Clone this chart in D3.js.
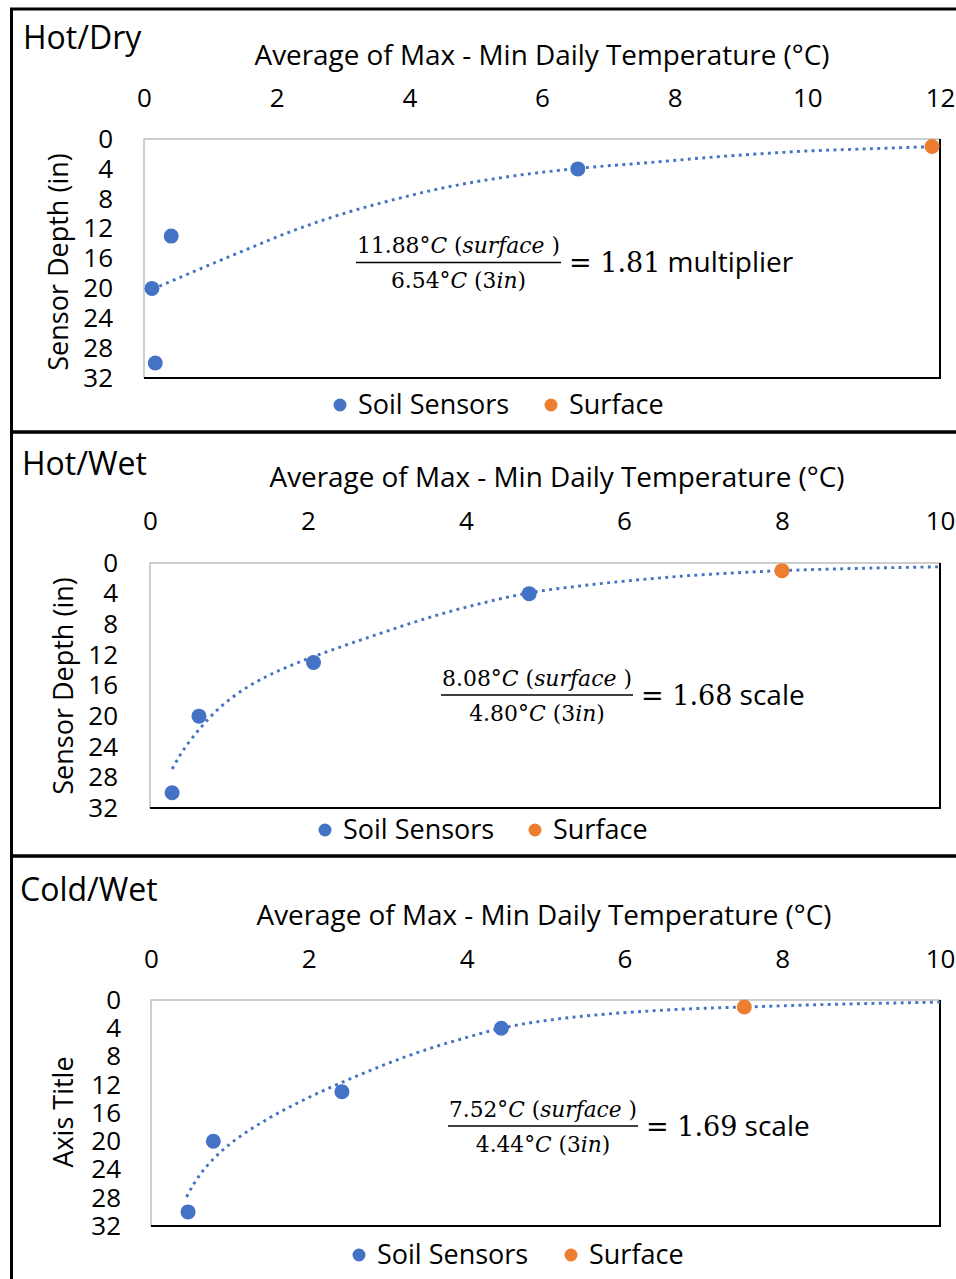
<!DOCTYPE html>
<html>
<head>
<meta charset="utf-8">
<script src="https://cdn.jsdelivr.net/npm/d3@7"></script>
<style>
  body { margin: 0; background: #fff; }
  svg text { font-family: "Open Sans", sans-serif; fill: #000; }
  .math { font-family: "DejaVu Serif", serif; }
</style>
</head>
<body>
<svg id="chart" width="956" height="1279"></svg>
<script>
// ---- data ----
const panelTitles = ['Hot/Dry', 'Hot/Wet', 'Cold/Wet'];
const yTitles = ['Sensor Depth (in)', 'Sensor Depth (in)', 'Axis Title'];
const xTitle = 'Average of Max - Min Daily Temperature (°C)';
const xMaxes = [12, 10, 10];
const xTicks = [[0, 2, 4, 6, 8, 10, 12], [0, 2, 4, 6, 8, 10], [0, 2, 4, 6, 8, 10]];
const depthTicks = [0, 4, 8, 12, 16, 20, 24, 28, 32];
const seriesNames = ['Soil Sensors', 'Surface'];

// [temperature range, depth]
const soilHotDry = [[6.54, 4], [0.41, 13], [0.12, 20], [0.17, 30]];
const surfaceHotDry = [[11.88, 1]];
const trendHotDry = [[0.13, 20.1], [1.49, 15.0], [2.27, 12.2], [3.04, 9.9], [3.82, 8.0], [4.59, 6.4],
  [5.37, 5.2], [6.53, 3.95], [7.69, 3.1], [8.47, 2.5], [9.25, 2.0], [10.02, 1.6], [10.8, 1.35],
  [11.88, 1.03], [12, 1.0]];

const soilHotWet = [[4.80, 4], [2.07, 13], [0.62, 20], [0.28, 30]];
const surfaceHotWet = [[8.0, 1]];
const trendHotWet = [[0.28, 26.9], [0.38, 25.1], [0.50, 23.3], [0.65, 21.4], [0.84, 19.3], [1.05, 17.5],
  [1.25, 16.1], [1.48, 14.8], [1.90, 12.9], [2.32, 11.3], [2.74, 9.8], [3.16, 8.35], [3.59, 6.95],
  [4.18, 5.3], [4.80, 3.9], [5.44, 3.0], [6.08, 2.3], [6.73, 1.72], [7.38, 1.3], [8.0, 1.0],
  [8.67, 0.78], [9.32, 0.62], [10, 0.5]];

const soilColdWet = [[4.44, 4], [2.42, 13], [0.79, 20], [0.47, 30]];
const surfaceColdWet = [[7.52, 1]];
const trendColdWet = [[0.45, 27.9], [0.55, 25.9], [0.65, 24.3], [0.80, 22.4], [1.00, 20.4], [1.25, 18.4],
  [1.50, 16.7], [1.89, 14.4], [2.31, 12.2], [2.73, 10.2], [3.16, 8.3], [3.58, 6.7], [4.0, 5.3],
  [4.46, 3.95], [5.11, 2.75], [5.76, 2.0], [6.40, 1.5], [7.05, 1.15], [7.51, 1.0], [8.35, 0.7],
  [9.0, 0.52], [10, 0.3]];

const surfaceTemps = ['11.88', '8.08', '7.52'];
const depth3Temps = ['6.54', '4.80', '4.44'];
const ratios = ['1.81', '1.68', '1.69'];
const ratioWords = ['multiplier', 'scale', 'scale'];

const soilSets = [soilHotDry, soilHotWet, soilColdWet];
const surfaceSets = [surfaceHotDry, surfaceHotWet, surfaceColdWet];
const trendSets = [trendHotDry, trendHotWet, trendColdWet];

// ---- layout ----
const blue = '#4472C4', orange = '#ED7D31';
const layout = [
  { frameY: 9, frameH: 423, plot: { l: 144, t: 139, r: 940, b: 378 }, titleX: 23, titleY: 49,
    axisTitleX: 542, axisTitleY: 65, tickY: 107, yLabelX: 113, yTitleX: 68, yTitleY: 262,
    legendY: 405, legendX: [340, 551], bar: { x0: 356, x1: 561, y: 262.5 } },
  { frameY: 432, frameH: 424, plot: { l: 150, t: 563, r: 940, b: 808 }, titleX: 22, titleY: 475,
    axisTitleX: 557, axisTitleY: 487, tickY: 530, yLabelX: 118, yTitleX: 73, yTitleY: 686,
    legendY: 830, legendX: [325, 535], bar: { x0: 441, x1: 633, y: 695 } },
  { frameY: 856, frameH: 440, plot: { l: 151, t: 1000, r: 940, b: 1226 }, titleX: 20, titleY: 901,
    axisTitleX: 544, axisTitleY: 925, tickY: 968, yLabelX: 121, yTitleX: 73, yTitleY: 1112,
    legendY: 1255, legendX: [359, 571], bar: { x0: 448, x1: 638, y: 1126 } }
];

const svg = d3.select('#chart');

// shrink/grow a text's font so it spans the given width
function fitWidth(sel, w) {
  const fs = parseFloat(sel.attr('font-size'));
  const len = sel.node().getComputedTextLength();
  sel.attr('font-size', (fs * w / len).toFixed(2));
}

layout.forEach((L, i) => {
  const g = svg.append('g');
  const p = L.plot;

  const x = d3.scaleLinear().domain([0, xMaxes[i]]).range([p.l, p.r]);
  const y = d3.scaleLinear().domain([0, 32]).range([p.t, p.b]);

  // outer frame
  g.append('rect')
    .attr('x', 11.5).attr('y', L.frameY)
    .attr('width', 960).attr('height', L.frameH)
    .attr('fill', 'none').attr('stroke', '#000').attr('stroke-width', 3);

  // plot area: light top/left, dark bottom/right
  g.append('path')
    .attr('d', `M${p.l},${p.b}V${p.t}H${p.r}`)
    .attr('fill', 'none').attr('stroke', '#bfbfbf').attr('stroke-width', 1.5);
  g.append('path')
    .attr('d', `M${p.l},${p.b}H${p.r}V${p.t}`)
    .attr('fill', 'none').attr('stroke', '#000').attr('stroke-width', 2);

  // panel title
  g.append('text')
    .attr('x', L.titleX).attr('y', L.titleY)
    .attr('font-size', 32)
    .text(panelTitles[i]);

  // x axis on top
  const xt = g.append('text')
    .attr('x', L.axisTitleX).attr('y', L.axisTitleY)
    .attr('text-anchor', 'middle')
    .attr('font-size', 26)
    .text(xTitle);
  fitWidth(xt, 575);

  const xAxis = g.append('g')
    .attr('transform', `translate(0,${L.tickY})`)
    .call(d3.axisTop(x).tickValues(xTicks[i]).tickSize(0).tickPadding(0).tickFormat(d3.format('d')));
  xAxis.select('.domain').remove();
  xAxis.selectAll('text')
    .attr('font-size', 26).attr('font-family', '"Open Sans", sans-serif').attr('fill', '#000');

  // y axis
  const yAxis = g.append('g')
    .attr('transform', `translate(${L.yLabelX},0)`)
    .call(d3.axisLeft(y).tickValues(depthTicks).tickSize(0).tickPadding(0));
  yAxis.select('.domain').remove();
  yAxis.selectAll('text')
    .attr('font-size', 26).attr('font-family', '"Open Sans", sans-serif').attr('fill', '#000');

  g.append('text')
    .attr('transform', `translate(${L.yTitleX},${L.yTitleY}) rotate(-90)`)
    .attr('text-anchor', 'middle')
    .attr('font-size', 27)
    .text(yTitles[i]);

  // dotted trendline
  const line = d3.line()
    .x(d => x(d[0]))
    .y(d => y(d[1]))
    .curve(d3.curveMonotoneX);
  g.append('path')
    .datum(trendSets[i])
    .attr('d', line)
    .attr('fill', 'none')
    .attr('stroke', blue)
    .attr('stroke-width', 2.9)
    .attr('stroke-dasharray', '2.9 4.4');

  // points
  g.append('g').selectAll('circle')
    .data(soilSets[i])
    .join('circle')
    .attr('cx', d => x(d[0])).attr('cy', d => y(d[1]))
    .attr('r', 7.5).attr('fill', blue);
  g.append('g').selectAll('circle')
    .data(surfaceSets[i])
    .join('circle')
    .attr('cx', d => x(d[0])).attr('cy', d => y(d[1]))
    .attr('r', 7.5).attr('fill', orange);

  // equation
  const B = L.bar;
  const cx = (B.x0 + B.x1) / 2;
  g.append('line')
    .attr('x1', B.x0).attr('x2', B.x1).attr('y1', B.y).attr('y2', B.y)
    .attr('stroke', '#000').attr('stroke-width', 1.6);
  const num = g.append('text').attr('class', 'math')
    .attr('x', cx).attr('y', B.y - 9.5)
    .attr('text-anchor', 'middle').attr('font-size', 21);
  num.append('tspan').text(surfaceTemps[i] + '°');
  num.append('tspan').attr('font-style', 'italic').text('C');
  num.append('tspan').text(' (');
  num.append('tspan').attr('font-style', 'italic').text('surface');
  num.append('tspan').text(' )');
  fitWidth(num, B.x1 - B.x0 - 2);
  const den = g.append('text').attr('class', 'math')
    .attr('x', cx).attr('y', B.y + 25.5)
    .attr('text-anchor', 'middle').attr('font-size', num.attr('font-size'));
  den.append('tspan').text(depth3Temps[i] + '°');
  den.append('tspan').attr('font-style', 'italic').text('C');
  den.append('tspan').text(' (3');
  den.append('tspan').attr('font-style', 'italic').text('in');
  den.append('tspan').text(')');

  const res = g.append('text')
    .attr('x', B.x1 + 8).attr('y', B.y + 9.5);
  res.append('tspan').attr('class', 'math').attr('font-size', 27).text('= ' + ratios[i]);
  res.append('tspan').attr('font-size', 28).text(' ' + ratioWords[i]);

  // legend
  const leg = g.append('g').selectAll('g')
    .data(seriesNames)
    .join('g')
    .attr('transform', (d, k) => `translate(${L.legendX[k]},${L.legendY})`);
  leg.append('circle')
    .attr('r', 6.5)
    .attr('fill', (d, k) => k === 0 ? blue : orange);
  leg.append('text')
    .attr('x', 18).attr('dy', '0.35em')
    .attr('font-size', 27)
    .text(d => d);
});
</script>
</body>
</html>
